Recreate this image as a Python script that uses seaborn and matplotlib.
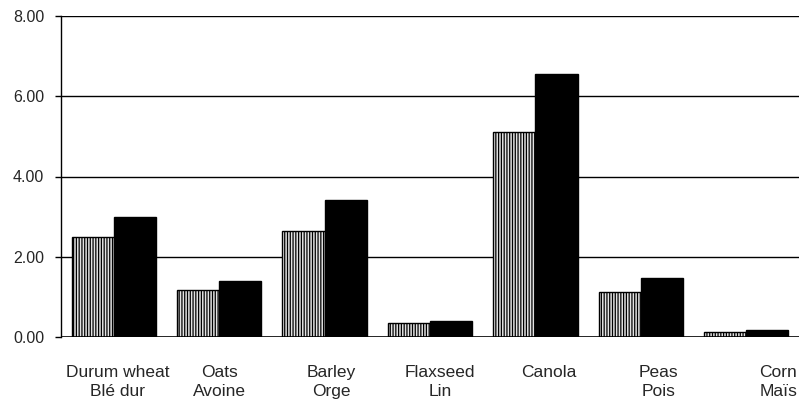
import pandas as pd
import matplotlib.pyplot as plt
import matplotlib.transforms as mtransforms
import seaborn as sns

# values
crops = ['Durum wheat\nBlé dur', 'Oats\nAvoine', 'Barley\nOrge', 'Flaxseed\nLin',
         'Canola', 'Peas\nPois', 'Corn\nMaïs']
series_a = [2.48, 1.17, 2.64, 0.36, 5.10, 1.11, 0.12]
series_b = [2.98, 1.40, 3.42, 0.40, 6.55, 1.48, 0.17]
yticks = [0, 2, 4, 6, 8]

df = pd.DataFrame({
    'crop': crops * 2,
    'value': series_a + series_b,
    'series': ['A'] * len(crops) + ['B'] * len(crops),
})

sns.set_style('white')
plt.rcParams['font.family'] = ['Liberation Sans', 'DejaVu Sans']
plt.rcParams['hatch.color'] = '#9a9a9a'
plt.rcParams['hatch.linewidth'] = 0.9

fig = plt.figure(figsize=(7.99, 4.09), dpi=100)
ax = fig.add_axes([61 / 799, 72 / 409, 1 - 61 / 799, (337 - 16) / 409])

sns.barplot(data=df, x='crop', y='value', hue='series', order=crops,
            palette=['#e2e2e2', '#000000'], width=0.8, edgecolor='black',
            linewidth=1, legend=False, ax=ax, zorder=3)

# fine vertical stripes on the first series
for p in ax.patches[:len(crops)]:
    p.set_hatch('||||||')

ax.set_xlim(-0.5, len(crops) - 0.5)
ax.set_ylim(0, 8)
ax.set_yticks(yticks)
ax.set_yticklabels([f'{v:.2f}' for v in yticks], fontsize=11.5)
ax.set_xlabel('')
ax.set_ylabel('')
for y in yticks[1:]:
    ax.axhline(y, color='black', lw=1, zorder=1)

for side in ['top', 'right', 'bottom']:
    ax.spines[side].set_visible(False)
ax.spines['left'].set_color('black')
ax.spines['left'].set_linewidth(1)
ax.axhline(0, color='black', lw=1.2, zorder=4)
ax.tick_params(axis='y', left=True, length=4, width=1, color='black', pad=8)
ax.tick_params(axis='x', bottom=False, pad=17)

# labels sit a little right of the bar groups in the original
shifts = [4, 0, 7, 10, 13, 18, 32]
for lab, s in zip(ax.get_xticklabels(), shifts):
    lab.set_fontsize(12.5)
    lab.set_linespacing(1.3)
    lab.set_transform(lab.get_transform() +
                      mtransforms.ScaledTranslation(s / 100, 0, fig.dpi_scale_trans))

fig.savefig('out.png', dpi=100)
